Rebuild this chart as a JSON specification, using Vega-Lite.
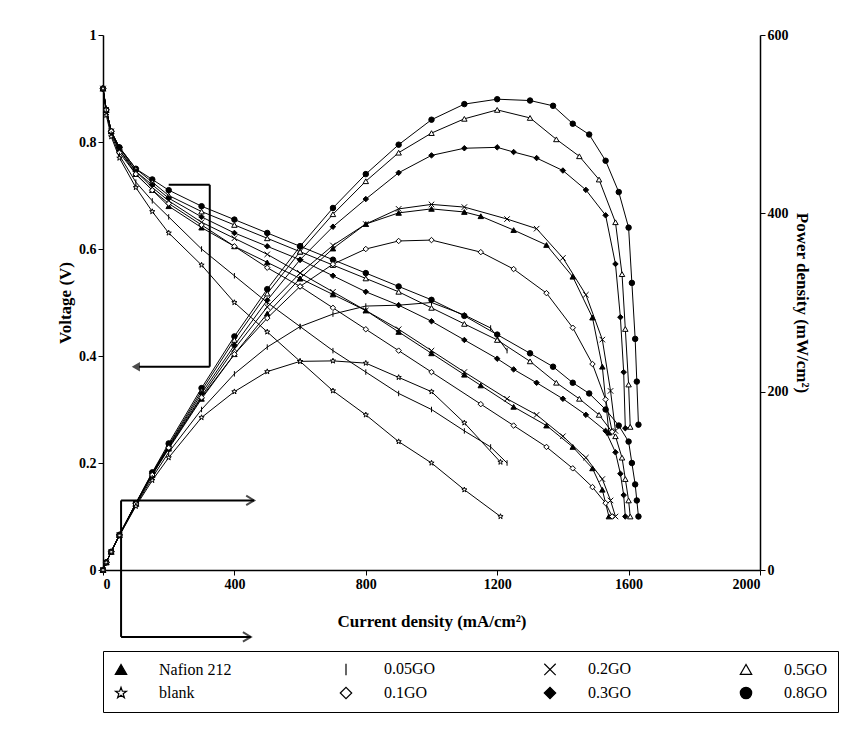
{
  "$schema": "https://vega.github.io/schema/vega-lite/v6.json",
  "width": 657,
  "height": 535,
  "padding": {"left": 56, "top": 28, "right": 5, "bottom": 5},
  "background": "white",
  "config": {
    "font": "Liberation Serif",
    "view": {"stroke": null},
    "axis": {"grid": false, "labelFont": "Liberation Serif", "labelFontWeight": "bold", "labelFontSize": 14, "titleFont": "Liberation Serif", "titleFontWeight": "bold", "titleFontSize": 17, "domainColor": "black", "tickColor": "black", "labelColor": "black", "titleColor": "black", "domainWidth": 1.5},
    "axisX": {"titlePadding": 22},
    "legend": {"orient": "bottom", "direction": "horizontal", "columns": 4, "offset": 22, "labelFont": "Liberation Serif", "labelFontSize": 16, "labelColor": "black", "symbolSize": 130, "symbolStrokeWidth": 1.2, "columnPadding": 105, "rowPadding": 6, "padding": 10, "strokeColor": "black", "labelLimit": 200, "labelOffset": 30}
  },
  "datasets": {
    "curves": [
      {"s":"0.8GO","I":0,"V":0.9,"P":0},{"s":"0.8GO","I":10,"V":0.86,"P":8.6},{"s":"0.8GO","I":25,"V":0.82,"P":20.5},{"s":"0.8GO","I":50,"V":0.79,"P":39.5},{"s":"0.8GO","I":100,"V":0.75,"P":75},{"s":"0.8GO","I":150,"V":0.73,"P":109.5},{"s":"0.8GO","I":200,"V":0.71,"P":142},{"s":"0.8GO","I":300,"V":0.68,"P":204},{"s":"0.8GO","I":400,"V":0.655,"P":262},{"s":"0.8GO","I":500,"V":0.63,"P":315},{"s":"0.8GO","I":600,"V":0.605,"P":363},{"s":"0.8GO","I":700,"V":0.58,"P":406},{"s":"0.8GO","I":800,"V":0.555,"P":444},{"s":"0.8GO","I":900,"V":0.53,"P":477},{"s":"0.8GO","I":1000,"V":0.505,"P":505},{"s":"0.8GO","I":1100,"V":0.475,"P":522.5},{"s":"0.8GO","I":1200,"V":0.44,"P":528},{"s":"0.8GO","I":1300,"V":0.405,"P":526.5},{"s":"0.8GO","I":1370,"V":0.38,"P":520.6},{"s":"0.8GO","I":1430,"V":0.35,"P":500.5},{"s":"0.8GO","I":1480,"V":0.33,"P":488.4},{"s":"0.8GO","I":1530,"V":0.3,"P":459},{"s":"0.8GO","I":1570,"V":0.27,"P":423.9},{"s":"0.8GO","I":1600,"V":0.24,"P":384},{"s":"0.8GO","I":1610,"V":0.2,"P":322},{"s":"0.8GO","I":1620,"V":0.16,"P":259.2},{"s":"0.8GO","I":1625,"V":0.13,"P":211.3},{"s":"0.8GO","I":1630,"V":0.1,"P":163},

      {"s":"0.5GO","I":0,"V":0.9,"P":0},{"s":"0.5GO","I":10,"V":0.86,"P":8.6},{"s":"0.5GO","I":25,"V":0.82,"P":20.5},{"s":"0.5GO","I":50,"V":0.79,"P":39.5},{"s":"0.5GO","I":100,"V":0.75,"P":75},{"s":"0.5GO","I":150,"V":0.725,"P":108.75},{"s":"0.5GO","I":200,"V":0.7,"P":140},{"s":"0.5GO","I":300,"V":0.67,"P":201},{"s":"0.5GO","I":400,"V":0.645,"P":258},{"s":"0.5GO","I":500,"V":0.62,"P":310},{"s":"0.5GO","I":600,"V":0.595,"P":357},{"s":"0.5GO","I":700,"V":0.57,"P":399},{"s":"0.5GO","I":800,"V":0.545,"P":436},{"s":"0.5GO","I":900,"V":0.52,"P":468},{"s":"0.5GO","I":1000,"V":0.49,"P":490},{"s":"0.5GO","I":1100,"V":0.46,"P":506},{"s":"0.5GO","I":1200,"V":0.43,"P":516},{"s":"0.5GO","I":1300,"V":0.39,"P":507},{"s":"0.5GO","I":1380,"V":0.35,"P":483},{"s":"0.5GO","I":1450,"V":0.32,"P":464},{"s":"0.5GO","I":1510,"V":0.29,"P":437.9},{"s":"0.5GO","I":1560,"V":0.25,"P":390},{"s":"0.5GO","I":1580,"V":0.21,"P":331.8},{"s":"0.5GO","I":1590,"V":0.17,"P":270.3},{"s":"0.5GO","I":1600,"V":0.13,"P":208},{"s":"0.5GO","I":1605,"V":0.1,"P":160.5},

      {"s":"0.3GO","I":0,"V":0.9,"P":0},{"s":"0.3GO","I":10,"V":0.86,"P":8.6},{"s":"0.3GO","I":25,"V":0.82,"P":20.5},{"s":"0.3GO","I":50,"V":0.79,"P":39.5},{"s":"0.3GO","I":100,"V":0.745,"P":74.5},{"s":"0.3GO","I":150,"V":0.72,"P":108},{"s":"0.3GO","I":200,"V":0.695,"P":139},{"s":"0.3GO","I":300,"V":0.66,"P":198},{"s":"0.3GO","I":400,"V":0.63,"P":252},{"s":"0.3GO","I":500,"V":0.605,"P":302.5},{"s":"0.3GO","I":600,"V":0.58,"P":348},{"s":"0.3GO","I":700,"V":0.55,"P":385},{"s":"0.3GO","I":800,"V":0.52,"P":416},{"s":"0.3GO","I":900,"V":0.495,"P":445.5},{"s":"0.3GO","I":1000,"V":0.465,"P":465},{"s":"0.3GO","I":1100,"V":0.43,"P":473},{"s":"0.3GO","I":1200,"V":0.395,"P":474},{"s":"0.3GO","I":1250,"V":0.375,"P":468.75},{"s":"0.3GO","I":1320,"V":0.35,"P":462},{"s":"0.3GO","I":1400,"V":0.32,"P":448},{"s":"0.3GO","I":1470,"V":0.29,"P":426.3},{"s":"0.3GO","I":1530,"V":0.26,"P":397.8},{"s":"0.3GO","I":1560,"V":0.22,"P":343.2},{"s":"0.3GO","I":1575,"V":0.18,"P":283.5},{"s":"0.3GO","I":1585,"V":0.14,"P":221.9},{"s":"0.3GO","I":1590,"V":0.1,"P":159},

      {"s":"Nafion 212","I":0,"V":0.9,"P":0},{"s":"Nafion 212","I":10,"V":0.86,"P":8.6},{"s":"Nafion 212","I":25,"V":0.82,"P":20.5},{"s":"Nafion 212","I":50,"V":0.785,"P":39.25},{"s":"Nafion 212","I":100,"V":0.74,"P":74},{"s":"Nafion 212","I":150,"V":0.71,"P":106.5},{"s":"Nafion 212","I":200,"V":0.68,"P":136},{"s":"Nafion 212","I":300,"V":0.64,"P":192},{"s":"Nafion 212","I":400,"V":0.605,"P":242},{"s":"Nafion 212","I":500,"V":0.575,"P":287.5},{"s":"Nafion 212","I":600,"V":0.545,"P":327},{"s":"Nafion 212","I":700,"V":0.515,"P":360.5},{"s":"Nafion 212","I":800,"V":0.485,"P":388},{"s":"Nafion 212","I":900,"V":0.445,"P":400.5},{"s":"Nafion 212","I":1000,"V":0.405,"P":405},{"s":"Nafion 212","I":1100,"V":0.365,"P":401.5},{"s":"Nafion 212","I":1150,"V":0.345,"P":396.75},{"s":"Nafion 212","I":1250,"V":0.305,"P":381.25},{"s":"Nafion 212","I":1350,"V":0.27,"P":364.5},{"s":"Nafion 212","I":1430,"V":0.23,"P":328.9},{"s":"Nafion 212","I":1490,"V":0.19,"P":283.1},{"s":"Nafion 212","I":1520,"V":0.15,"P":228},{"s":"Nafion 212","I":1540,"V":0.1,"P":154},

      {"s":"0.2GO","I":0,"V":0.9,"P":0},{"s":"0.2GO","I":10,"V":0.86,"P":8.6},{"s":"0.2GO","I":25,"V":0.82,"P":20.5},{"s":"0.2GO","I":50,"V":0.785,"P":39.25},{"s":"0.2GO","I":100,"V":0.745,"P":74.5},{"s":"0.2GO","I":150,"V":0.715,"P":107.25},{"s":"0.2GO","I":200,"V":0.69,"P":138},{"s":"0.2GO","I":300,"V":0.65,"P":195},{"s":"0.2GO","I":400,"V":0.62,"P":248},{"s":"0.2GO","I":500,"V":0.59,"P":295},{"s":"0.2GO","I":600,"V":0.555,"P":333},{"s":"0.2GO","I":700,"V":0.52,"P":364},{"s":"0.2GO","I":800,"V":0.485,"P":388},{"s":"0.2GO","I":900,"V":0.45,"P":405},{"s":"0.2GO","I":1000,"V":0.41,"P":410},{"s":"0.2GO","I":1100,"V":0.37,"P":407},{"s":"0.2GO","I":1230,"V":0.32,"P":393.6},{"s":"0.2GO","I":1320,"V":0.29,"P":382.8},{"s":"0.2GO","I":1400,"V":0.25,"P":350},{"s":"0.2GO","I":1470,"V":0.21,"P":308.7},{"s":"0.2GO","I":1520,"V":0.17,"P":258.4},{"s":"0.2GO","I":1545,"V":0.13,"P":200.85},{"s":"0.2GO","I":1560,"V":0.1,"P":156},

      {"s":"0.1GO","I":0,"V":0.9,"P":0},{"s":"0.1GO","I":10,"V":0.86,"P":8.6},{"s":"0.1GO","I":25,"V":0.82,"P":20.5},{"s":"0.1GO","I":50,"V":0.78,"P":39},{"s":"0.1GO","I":100,"V":0.74,"P":74},{"s":"0.1GO","I":150,"V":0.71,"P":106.5},{"s":"0.1GO","I":200,"V":0.685,"P":137},{"s":"0.1GO","I":300,"V":0.645,"P":193.5},{"s":"0.1GO","I":400,"V":0.605,"P":242},{"s":"0.1GO","I":500,"V":0.565,"P":282.5},{"s":"0.1GO","I":600,"V":0.53,"P":318},{"s":"0.1GO","I":700,"V":0.49,"P":343},{"s":"0.1GO","I":800,"V":0.45,"P":360},{"s":"0.1GO","I":900,"V":0.41,"P":369},{"s":"0.1GO","I":1000,"V":0.37,"P":370},{"s":"0.1GO","I":1150,"V":0.31,"P":356.5},{"s":"0.1GO","I":1250,"V":0.27,"P":337.5},{"s":"0.1GO","I":1350,"V":0.23,"P":310.5},{"s":"0.1GO","I":1430,"V":0.19,"P":271.7},{"s":"0.1GO","I":1490,"V":0.155,"P":231},{"s":"0.1GO","I":1530,"V":0.125,"P":191.25},{"s":"0.1GO","I":1550,"V":0.1,"P":155},

      {"s":"0.05GO","I":0,"V":0.9,"P":0},{"s":"0.05GO","I":10,"V":0.86,"P":8.6},{"s":"0.05GO","I":25,"V":0.815,"P":20.4},{"s":"0.05GO","I":50,"V":0.775,"P":38.75},{"s":"0.05GO","I":100,"V":0.725,"P":72.5},{"s":"0.05GO","I":150,"V":0.69,"P":103.5},{"s":"0.05GO","I":200,"V":0.66,"P":132},{"s":"0.05GO","I":300,"V":0.6,"P":180},{"s":"0.05GO","I":400,"V":0.55,"P":220},{"s":"0.05GO","I":500,"V":0.5,"P":250},{"s":"0.05GO","I":600,"V":0.455,"P":273},{"s":"0.05GO","I":700,"V":0.41,"P":287},{"s":"0.05GO","I":800,"V":0.37,"P":296},{"s":"0.05GO","I":900,"V":0.33,"P":297},{"s":"0.05GO","I":1000,"V":0.3,"P":300},{"s":"0.05GO","I":1100,"V":0.26,"P":286},{"s":"0.05GO","I":1180,"V":0.23,"P":271.4},{"s":"0.05GO","I":1230,"V":0.2,"P":246},

      {"s":"blank","I":0,"V":0.9,"P":0},{"s":"blank","I":10,"V":0.85,"P":8.5},{"s":"blank","I":25,"V":0.81,"P":20.25},{"s":"blank","I":50,"V":0.77,"P":38.5},{"s":"blank","I":100,"V":0.715,"P":71.5},{"s":"blank","I":150,"V":0.67,"P":100.5},{"s":"blank","I":200,"V":0.63,"P":126},{"s":"blank","I":300,"V":0.57,"P":171},{"s":"blank","I":400,"V":0.5,"P":200},{"s":"blank","I":500,"V":0.445,"P":222.5},{"s":"blank","I":600,"V":0.39,"P":234},{"s":"blank","I":700,"V":0.335,"P":234.5},{"s":"blank","I":800,"V":0.29,"P":232},{"s":"blank","I":900,"V":0.24,"P":216},{"s":"blank","I":1000,"V":0.2,"P":200},{"s":"blank","I":1100,"V":0.15,"P":165},{"s":"blank","I":1210,"V":0.1,"P":121}
    ],
    "segments": [
      {"x":200,"x2":325,"y":0.72,"y2":0.72},
      {"x":325,"x2":325,"y":0.72,"y2":0.38},
      {"x":325,"x2":110,"y":0.38,"y2":0.38},
      {"x":55,"x2":55,"y":0.13,"y2":-0.125},
      {"x":55,"x2":460,"y":0.13,"y2":0.13},
      {"x":55,"x2":450,"y":-0.125,"y2":-0.125}
    ],
    "heads": [
      {"x":460,"y":0.13},
      {"x":450,"y":-0.125}
    ],
    "lefthead": [
      {"x":100,"y":0.38}
    ]
  },
  "layer": [
    {
      "layer": [
        {
          "data": {"name": "curves"},
          "mark": {"type": "line", "color": "black", "strokeWidth": 1},
          "encoding": {
            "x": {"field": "I", "type": "quantitative", "scale": {"domain": [0, 2000]}, "axis": {"values": [0, 400, 800, 1200, 1600, 2000], "format": "d", "title": "Current density (mA/cm²)"}},
            "y": {"field": "V", "type": "quantitative", "scale": {"domain": [0, 1]}, "axis": {"values": [0, 0.2, 0.4, 0.6, 0.8, 1], "format": "~g", "title": "Voltage (V)"}},
            "detail": {"field": "s"}
          }
        },
        {
          "data": {"name": "curves"},
          "mark": {"type": "point", "stroke": "black", "strokeWidth": 1, "size": 30, "opacity": 1},
          "encoding": {
            "x": {"field": "I", "type": "quantitative"},
            "y": {"field": "V", "type": "quantitative", "title": "Voltage (V)"},
            "shape": {"field": "s", "type": "nominal", "title": null,
              "scale": {"domain": ["Nafion 212","0.05GO","0.2GO","0.5GO","blank","0.1GO","0.3GO","0.8GO"],
                "range": ["triangle-up","M0,-1L0,1","M-1,-1L1,1M1,-1L-1,1","triangle-up","M0,-1L0.24,-0.31L0.95,-0.31L0.38,0.12L0.59,0.81L0,0.38L-0.59,0.81L-0.38,0.12L-0.95,-0.31L-0.24,-0.31Z","diamond","diamond","circle"]}},
            "fill": {"field": "s", "type": "nominal", "title": null,
              "scale": {"domain": ["Nafion 212","0.05GO","0.2GO","0.5GO","blank","0.1GO","0.3GO","0.8GO"],
                "range": ["black","white","white","white","white","white","black","black"]}}
          }
        },
        {
          "data": {"name": "segments"},
          "mark": {"type": "rule", "color": "black", "strokeWidth": 2},
          "encoding": {
            "x": {"field": "x", "type": "quantitative"},
            "x2": {"field": "x2"},
            "y": {"field": "y", "type": "quantitative", "title": "Voltage (V)"},
            "y2": {"field": "y2"}
          }
        },
        {
          "data": {"name": "heads"},
          "mark": {"type": "point", "shape": "M-1,-0.6L0,0L-1,0.6", "filled": false, "stroke": "black", "strokeWidth": 2, "size": 250},
          "encoding": {
            "x": {"field": "x", "type": "quantitative"},
            "y": {"field": "y", "type": "quantitative", "title": "Voltage (V)"}
          }
        },
        {
          "data": {"name": "lefthead"},
          "mark": {"type": "point", "shape": "triangle-left", "filled": true, "color": "black", "size": 90},
          "encoding": {
            "x": {"field": "x", "type": "quantitative"},
            "y": {"field": "y", "type": "quantitative", "title": "Voltage (V)"}
          }
        }
      ]
    },
    {
      "data": {"name": "curves"},
      "layer": [
        {
          "mark": {"type": "line", "color": "black", "strokeWidth": 1},
          "encoding": {
            "x": {"field": "I", "type": "quantitative"},
            "y": {"field": "P", "type": "quantitative", "scale": {"domain": [0, 600]}, "axis": {"orient": "right", "values": [0, 200, 400, 600], "title": "Power density (mW/cm²)"}},
            "detail": {"field": "s"}
          }
        },
        {
          "mark": {"type": "point", "stroke": "black", "strokeWidth": 1, "size": 30, "opacity": 1},
          "encoding": {
            "x": {"field": "I", "type": "quantitative"},
            "y": {"field": "P", "type": "quantitative", "title": "Power density (mW/cm²)"},
            "shape": {"field": "s", "type": "nominal", "title": null},
            "fill": {"field": "s", "type": "nominal", "title": null}
          }
        }
      ]
    }
  ],
  "resolve": {"scale": {"y": "independent"}}
}
